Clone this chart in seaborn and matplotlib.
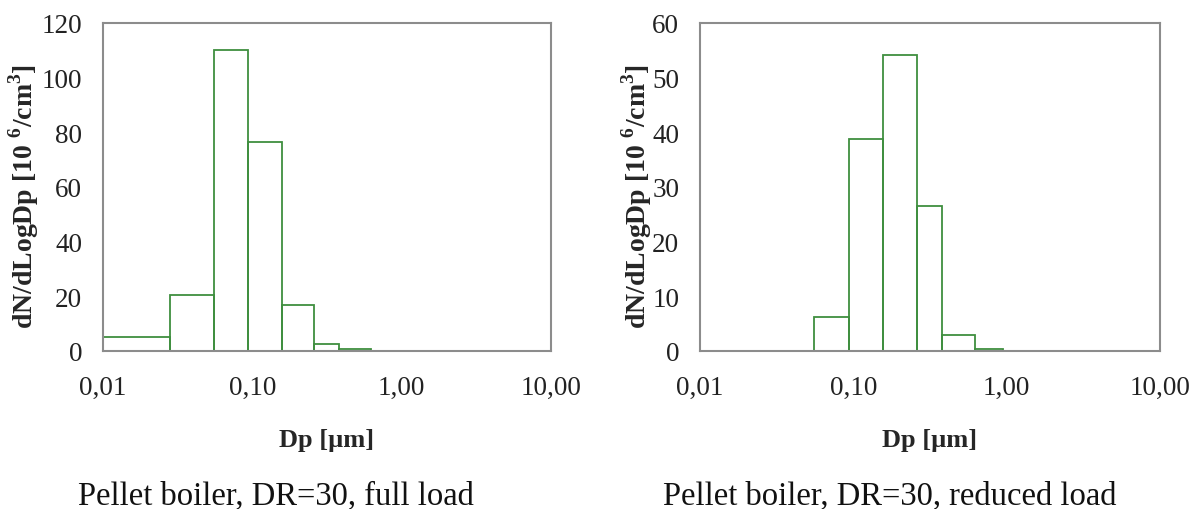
import numpy as np
import pandas as pd
import matplotlib
matplotlib.use("Agg")
import matplotlib.pyplot as plt
import seaborn as sns
from matplotlib.ticker import FixedLocator, FixedFormatter, NullLocator

sns.set_style("white")
plt.rcParams['font.family'] = ['Liberation Serif', 'DejaVu Serif']
plt.rcParams['mathtext.fontset'] = 'custom'
plt.rcParams['mathtext.rm'] = 'Liberation Serif'
plt.rcParams['mathtext.bf'] = 'Liberation Serif:bold'

# ELPI stage boundaries [um]
bin_edges = [0.01, 0.028, 0.055, 0.094, 0.157, 0.26, 0.38, 0.62, 0.95,
             1.6, 2.4, 4.0, 6.6, 10.0]

# dN/dLogDp [10^6/cm3] per stage
full_load = [5.0, 20.5, 110.2, 76.5, 17.0, 2.7, 0.6, 0.1, 0.0, 0.0, 0.0, 0.0, 0.0]
reduced_load = [0.0, 0.0, 6.2, 38.7, 54.2, 26.5, 2.9, 0.3, 0.0, 0.0, 0.0, 0.0, 0.0]

titles = ["Pellet boiler, DR=30, full load", "Pellet boiler, DR=30, reduced load"]
y_max = [120, 60]
y_step = [20, 10]

x_ticks = [0.01, 0.1, 1.0, 10.0]
x_ticklabels = ["0,01", "0,10", "1,00", "10,00"]

green = "#3f8f3f"
frame_gray = "#8c8c8c"

edges = np.array(bin_edges)
mids = np.sqrt(edges[:-1] * edges[1:])
log_bins = [float(v) for v in np.log10(edges)]

fig = plt.figure(figsize=(11.98, 5.10), dpi=100)
ax_pos = [[103 / 1198, 158 / 510, 448 / 1198, 328 / 510],
          [700 / 1198, 158 / 510, 460 / 1198, 328 / 510]]
label_x = [-0.138, -0.10]
title_x = [276 / 1198, 890 / 1198]

for i, values in enumerate([full_load, reduced_load]):
    ax = fig.add_axes(ax_pos[i])
    df = pd.DataFrame({"Dp": mids, "dN": values})
    sns.histplot(data=df, x="Dp", weights="dN", bins=log_bins,
                 log_scale=True, fill=False, color=green, linewidth=1.3,
                 element="bars", ax=ax)
    ax.set_xlim(0.01, 10)
    ax.set_ylim(0, y_max[i])
    ax.xaxis.set_major_locator(FixedLocator(x_ticks))
    ax.xaxis.set_major_formatter(FixedFormatter(x_ticklabels))
    ax.xaxis.set_minor_locator(NullLocator())
    ax.set_yticks(np.arange(0, y_max[i] + 1, y_step[i]))
    ax.tick_params(axis="both", labelsize=19.5, labelcolor="#222222",
                   direction="out", length=5, width=1.2, color=frame_gray)
    ax.tick_params(axis="x", pad=12)
    ax.tick_params(axis="y", pad=10)
    for sp in ax.spines.values():
        sp.set_color(frame_gray)
        sp.set_linewidth(1.5)
    ax.axhline(0, color="#333333", lw=1.2, zorder=0.5)
    ax.set_xlabel("Dp [µm]", fontsize=19, fontweight="bold")
    ax.xaxis.set_label_coords(0.5, -0.235)
    ax.set_ylabel(r"dN/dLogDp [10 $^{\mathbf{6}}$/cm$^{\mathbf{3}}$]",
                  fontsize=20, fontweight="bold")
    ax.yaxis.set_label_coords(label_x[i], 0.475)
    fig.text(title_x[i], 6 / 510, titles[i], fontsize=23.5, ha="center",
             va="baseline", color="#111111")

fig.savefig("out.png", dpi=100, facecolor="white")
